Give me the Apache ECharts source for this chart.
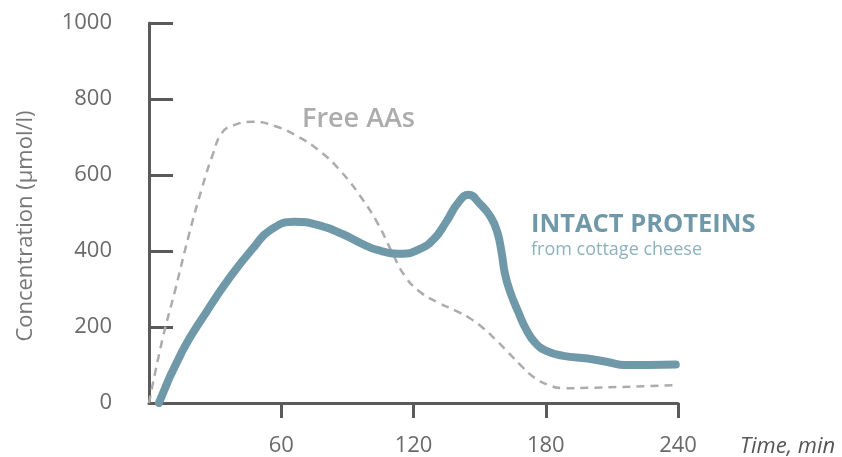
<!DOCTYPE html>
<html>
<head>
<meta charset="utf-8">
<script src="https://cdn.jsdelivr.net/npm/echarts@6/dist/echarts.min.js"></script>
<style>
html,body{margin:0;padding:0;background:#fff;}
#chart{width:842px;height:457px;}
</style>
</head>
<body>
<div id="chart"></div>
<script>
var xTicks = [0, 60, 120, 180, 240];
var yTicks = [0, 200, 400, 600, 800, 1000];

var intactTime = [4.5, 15, 26, 37, 48, 55, 66, 78, 88, 96, 104, 115, 122, 129, 135, 140, 145, 150, 155, 158, 160, 161.5, 164, 167.5, 171, 175, 180, 188, 199, 208, 216, 227, 239];
var intactValues = [0, 135, 239, 333, 413, 455, 477, 466, 444, 421, 402, 393, 403, 430, 478, 525, 548, 525, 490, 450, 395, 340, 290, 240, 195, 160, 138, 124, 117, 108, 100, 100, 101];

var freeTime = [0, 6, 12, 18, 24, 29, 33, 38, 47, 57, 67, 77, 87, 97, 104, 110, 116, 123, 131, 139, 145, 151, 157, 163, 169, 175, 181, 188, 200, 212, 225, 239];
var freeValues = [0, 165, 300, 440, 565, 655, 710, 730, 740, 729, 703, 665, 610, 535, 470, 400, 335, 292, 265, 243, 225, 200, 168, 133, 97, 66, 48, 39, 40, 42, 44, 47];

function zip(a, b) { return a.map(function (t, i) { return [t, b[i]]; }); }

var chart = echarts.init(document.getElementById('chart'));
var FONT = '"Open Sans", "Noto Sans", sans-serif';
chart.setOption({
  animation: false,
  backgroundColor: '#ffffff',
  textStyle: { fontFamily: FONT },
  grid: { left: 149, right: 164, top: 23, bottom: 49 },
  xAxis: {
    type: 'value',
    min: xTicks[0], max: xTicks[xTicks.length - 1], interval: 60,
    axisLine: { lineStyle: { color: '#5a5a5a', width: 3 } },
    axisTick: { show: true, inside: false, length: 15, lineStyle: { color: '#5a5a5a', width: 3 } },
    axisLabel: { showMinLabel: false, fontSize: 22, color: '#6a6a6a', margin: 32, fontFamily: FONT },
    splitLine: { show: false }
  },
  yAxis: {
    type: 'value',
    min: yTicks[0], max: yTicks[yTicks.length - 1], interval: 200,
    name: 'Concentration (µmol/l)',
    nameLocation: 'middle',
    nameGap: 112,
    nameTextStyle: { fontSize: 22, color: '#777', fontFamily: FONT, padding: [0, 26, 0, 0] },
    axisLine: { show: true, lineStyle: { color: '#5a5a5a', width: 3 } },
    axisTick: { show: true, inside: true, length: 24, lineStyle: { color: '#5a5a5a', width: 3 } },
    axisLabel: { fontSize: 22, color: '#6a6a6a', margin: 37, fontFamily: FONT, formatter: function (v) { return String(v); } },
    splitLine: { show: false }
  },
  series: [
    {
      name: 'Free AAs',
      type: 'line',
      data: zip(freeTime, freeValues),
      smooth: 0.5,
      symbol: 'none',
      lineStyle: { color: '#acacac', width: 2.5, type: [8, 6] },
      z: 2
    },
    {
      name: 'Intact proteins',
      type: 'line',
      data: zip(intactTime, intactValues),
      smooth: 0.5,
      symbol: 'none',
      lineStyle: { color: '#6f99a9', width: 8, cap: 'round', join: 'round' },
      z: 3
    }
  ],
  graphic: [
    { type: 'text', left: 302, top: 106, style: { text: 'Free AAs', fontSize: 27, fontWeight: 600, fill: '#acacac', fontFamily: FONT } },
    { type: 'text', left: 531, top: 212, style: { text: 'INTACT PROTEINS', fontSize: 25.5, fontWeight: 'bold', fill: '#6f98a8', fontFamily: FONT } },
    { type: 'text', left: 531, top: 241, style: { text: 'from cottage cheese', fontSize: 18, fill: '#8eb1be', fontFamily: FONT } },
    { type: 'text', left: 740, top: 436, style: { text: 'Time, min', fontSize: 22, fontStyle: 'italic', fill: '#555', fontFamily: FONT } }
  ]
});
</script>
</body>
</html>
